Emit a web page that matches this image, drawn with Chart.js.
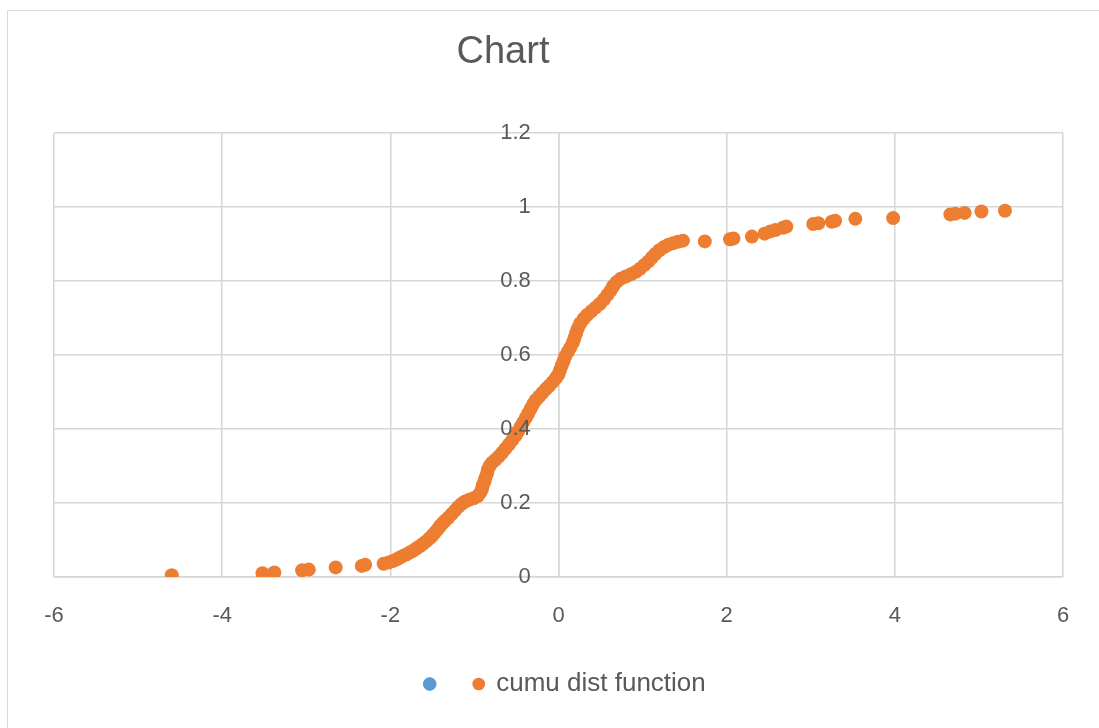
<!DOCTYPE html>
<html>
<head>
<meta charset="utf-8">
<script src="https://cdn.jsdelivr.net/npm/chart.js@4.4.1/dist/chart.umd.min.js"></script>
<style>
  html, body { margin: 0; padding: 0; background: #ffffff; overflow: hidden; }
  #frame { position: absolute; left: 7px; top: 10px; width: 1200px; height: 900px; border: 1.5px solid #d9d9d9; box-sizing: border-box; }
  #wrap { position: absolute; left: 0; top: 0; width: 1099px; height: 728px; }
</style>
</head>
<body>
<div id="frame"></div>
<div id="wrap"><canvas id="c"></canvas></div>
<script>
// ---- data ----
const chartTitle = "Chart";
const seriesName = "cumu dist function";
const xTickValues = [-6, -4, -2, 0, 2, 4, 6];
const xTickLabels = ['-6', '-4', '-2', '0', '2', '4', '6'];
const yTickValues = [0, 0.2, 0.4, 0.6, 0.8, 1, 1.2];
const yTickLabels = ['0', '0.2', '0.4', '0.6', '0.8', '1', '1.2'];

const cdfX = [
  -4.60, -3.52, -3.38, -3.05, -2.97, -2.65, -2.34, -2.30, -2.08, -2.02,
  -1.97, -1.93, -1.89, -1.85, -1.81, -1.77, -1.73, -1.69, -1.65, -1.61,
  -1.57, -1.53, -1.50, -1.47, -1.44, -1.41, -1.38, -1.35, -1.31, -1.27,
  -1.23, -1.19, -1.15, -1.11, -1.06, -1.01, -0.96, -0.93, -0.91, -0.90,
  -0.88, -0.87, -0.85, -0.84, -0.82, -0.79, -0.75, -0.71, -0.67, -0.63,
  -0.59, -0.55, -0.51, -0.48, -0.45, -0.42, -0.39, -0.36, -0.33, -0.30,
  -0.27, -0.23, -0.19, -0.15, -0.11, -0.07, -0.03, 0.00, 0.02, 0.04,
  0.06, 0.08, 0.11, 0.14, 0.17, 0.19, 0.21, 0.23, 0.26, 0.30,
  0.34, 0.39, 0.44, 0.49, 0.54, 0.58, 0.62, 0.65, 0.69, 0.74,
  0.80, 0.86, 0.92, 0.97, 1.02, 1.07, 1.11, 1.15, 1.20, 1.25,
  1.30, 1.36, 1.42, 1.48, 1.74, 2.04, 2.08, 2.30, 2.45, 2.52,
  2.58, 2.67, 2.71, 3.03, 3.09, 3.25, 3.29, 3.53, 3.98, 4.66,
  4.72, 4.83, 5.03, 5.31
];
const cdfY = [
  0.005, 0.010, 0.012, 0.018, 0.020, 0.026, 0.030, 0.033, 0.036, 0.039,
  0.043, 0.047, 0.052, 0.057, 0.061, 0.066, 0.071, 0.077, 0.083, 0.090,
  0.097, 0.105, 0.112, 0.120, 0.128, 0.137, 0.145, 0.152, 0.160, 0.170,
  0.180, 0.190, 0.198, 0.204, 0.209, 0.213, 0.219, 0.228, 0.238, 0.248,
  0.258, 0.268, 0.279, 0.290, 0.300, 0.309, 0.317, 0.326, 0.336, 0.347,
  0.358, 0.370, 0.382, 0.394, 0.406, 0.418, 0.430, 0.442, 0.455, 0.468,
  0.478, 0.488, 0.498, 0.508, 0.517, 0.527, 0.538, 0.548, 0.560, 0.572,
  0.584, 0.596, 0.608, 0.620, 0.633, 0.646, 0.659, 0.672, 0.686, 0.698,
  0.708, 0.718, 0.728, 0.738, 0.750, 0.762, 0.774, 0.786, 0.797, 0.806,
  0.812, 0.818, 0.825, 0.833, 0.843, 0.853, 0.863, 0.873, 0.883, 0.891,
  0.897, 0.902, 0.906, 0.909, 0.907, 0.913, 0.915, 0.920, 0.928, 0.934,
  0.938, 0.944, 0.947, 0.954, 0.956, 0.960, 0.963, 0.968, 0.970, 0.980,
  0.982, 0.984, 0.988, 0.990
];

// ---- chart ----
const points = cdfX.map((x, i) => ({ x: x, y: cdfY[i] }));
const textColor = '#595959';
const gridColor = '#d6d6d6';
const fontFamily = "'Liberation Sans', Arial, sans-serif";

const titlePlugin = {
  id: 'fixedTitle',
  afterLayout(chart) {
    // nudge the legend to the right, as in the reference
    chart.legend.left += 7;
    chart.legend.right += 7;
  },
  afterDraw(chart) {
    const ctx = chart.ctx;
    ctx.save();
    ctx.font = "38px " + fontFamily;
    ctx.fillStyle = textColor;
    ctx.textAlign = 'center';
    ctx.textBaseline = 'alphabetic';
    ctx.fillText(chartTitle, 503, 63);
    ctx.restore();
  }
};

new Chart(document.getElementById('c'), {
  type: 'scatter',
  data: {
    datasets: [
      { label: '', data: [], backgroundColor: '#5B9BD5', borderColor: '#5B9BD5', pointRadius: 7 },
      { label: seriesName, data: points, backgroundColor: '#ED7D31', borderColor: '#ED7D31',
        pointRadius: 7, pointHoverRadius: 7, borderWidth: 0 }
    ]
  },
  options: {
    responsive: true,
    maintainAspectRatio: false,
    animation: false,
    layout: { padding: { top: 133, left: 54, right: 36, bottom: 21 } },
    plugins: {
      title: { display: false },
      tooltip: { enabled: false },
      legend: {
        position: 'bottom',
        labels: {
          usePointStyle: true, boxWidth: 9, boxHeight: 9, padding: 27,
          color: textColor, font: { size: 26, family: fontFamily }
        }
      }
    },
    scales: {
      x: {
        type: 'linear', min: -6, max: 6,
        afterBuildTicks: (s) => { s.ticks = xTickValues.map(v => ({ value: v })); },
        afterFit: (s) => { s.height = 67; },
        grid: { color: gridColor, lineWidth: 1.5, drawTicks: false },
        border: { color: gridColor, width: 1.5 },
        ticks: { color: textColor, padding: 26, font: { size: 22, family: fontFamily },
                 callback: (v, i) => xTickLabels[i] }
      },
      y: {
        type: 'linear', min: 0, max: 1.2,
        position: { x: 0 },
        afterBuildTicks: (s) => { s.ticks = yTickValues.map(v => ({ value: v })); },
        grid: { color: gridColor, lineWidth: 1.5, drawTicks: false },
        border: { color: gridColor, width: 1.5 },
        ticks: { display: false }
      },
      yLabels: {
        type: 'linear', min: 0, max: 1.2, axis: 'y',
        position: { x: -0.33 },
        afterBuildTicks: (s) => { s.ticks = yTickValues.map(v => ({ value: v })); },
        grid: { display: false, drawTicks: false },
        border: { display: false },
        ticks: { z: 1, color: textColor, padding: 0, font: { size: 22, family: fontFamily },
                 callback: (v, i) => yTickLabels[i] }
      }
    }
  },
  plugins: [titlePlugin]
});
</script>
</body>
</html>
